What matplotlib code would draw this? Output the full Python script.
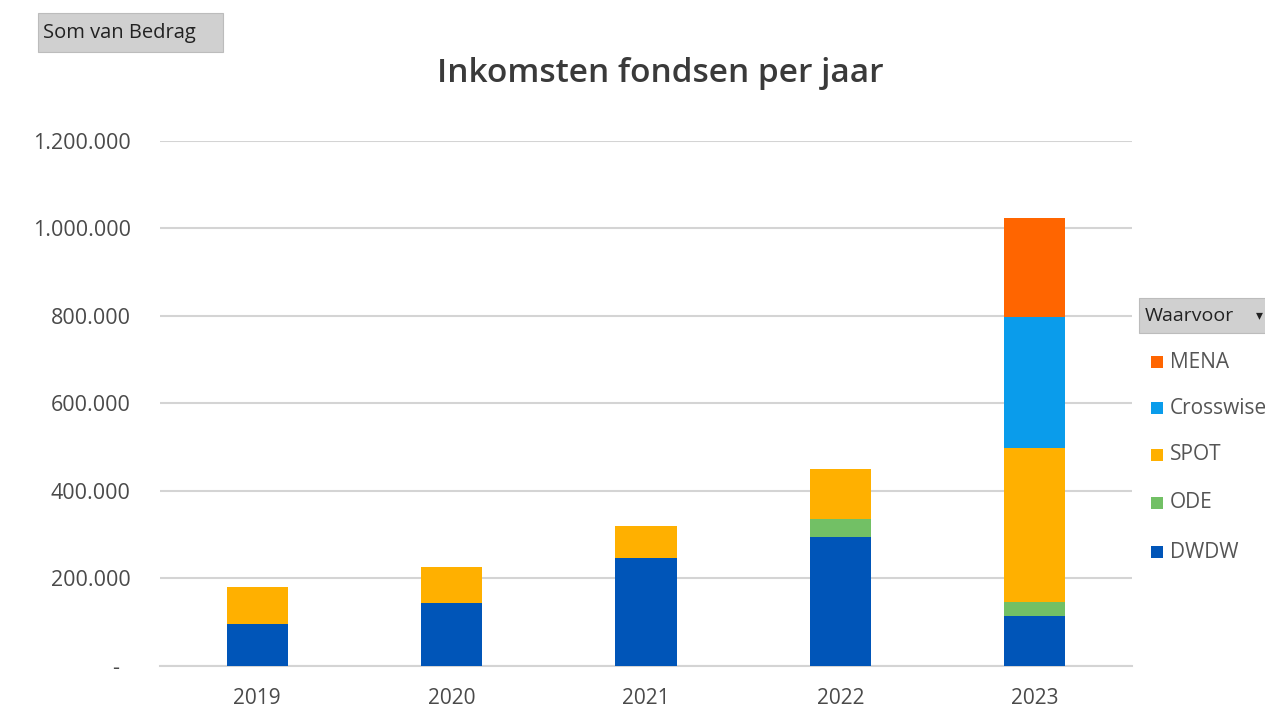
import matplotlib.pyplot as plt
import numpy as np
from matplotlib.patches import Rectangle

years = ["2019", "2020", "2021", "2022", "2023"]
series = ["DWDW", "ODE", "SPOT", "Crosswise", "MENA"]
dwdw = [95000, 143000, 246000, 294000, 114000]
ode = [0, 0, 0, 41000, 32000]
spot = [85000, 83000, 74000, 114000, 351000]
crosswise = [0, 0, 0, 0, 301000]
mena = [0, 0, 0, 0, 226000]
colors = ["#0055B8", "#72C065", "#FFB000", "#0A9CEB", "#FF6500"]
yticks = [0, 200000, 400000, 600000, 800000, 1000000, 1200000]


def fmt(v):
    if v == 0:
        return "-  "
    return f"{v:,}".replace(",", ".")


def button(fig, x, y, w, h):
    fig.patches.append(Rectangle((x, y), w, h, transform=fig.transFigure,
                                 facecolor="#d0d0d0", edgecolor="#bcbcbc", lw=0.8))


def generate_chart():
    plt.rcParams["font.family"] = ["Open Sans", "DejaVu Sans"]
    fig = plt.figure(figsize=(12.65, 7.11), dpi=100)
    ax = fig.add_axes([0.1265, 0.0637, 0.7684, 0.738])

    x = np.arange(len(years))
    bottom = np.zeros(len(years))
    values = [dwdw, ode, spot, crosswise, mena]
    for name, vals, c in zip(series, values, colors):
        ax.bar(x, vals, width=0.315, bottom=bottom, color=c, label=name, zorder=3)
        bottom += np.array(vals)

    ax.set_xlim(-0.5, 4.5)
    ax.set_ylim(0, 1200000)
    ax.set_yticks(yticks)
    ax.set_yticklabels([fmt(v) for v in yticks])
    ax.set_xticks(x)
    ax.set_xticklabels(years)
    ax.grid(axis="y", color="#d4d4d4", lw=1.5, zorder=0)
    ax.set_axisbelow(True)
    for s in ["top", "right", "left"]:
        ax.spines[s].set_visible(False)
    ax.spines["bottom"].set_color("#d4d4d4")
    ax.spines["bottom"].set_linewidth(1.5)
    ax.tick_params(length=0, colors="#4a4a4a")
    ax.tick_params(axis="y", labelsize=15.5, pad=21)
    ax.tick_params(axis="x", labelsize=15, pad=16)

    fig.text(0.522, 0.896, "Inkomsten fondsen per jaar", ha="center", va="center",
             fontsize=24, color="#3a3a3a", fontweight="semibold")

    # field buttons
    button(fig, 0.030, 0.927, 0.146, 0.055)
    fig.text(0.034, 0.953, "Som van Bedrag", va="center", fontsize=14.5, color="#222222")

    button(fig, 0.900, 0.531, 0.11, 0.050)
    fig.text(0.905, 0.556, "Waarvoor", va="center", fontsize=14, color="#222222")
    fig.text(0.993, 0.556, "▾", va="center", fontsize=10, color="#222222")

    # legend
    ys = [362, 408, 455, 503, 552]
    for name, c, yy in zip(series[::-1], colors[::-1], ys):
        yf = 1 - yy / 711
        fig.patches.append(Rectangle((0.9095, yf - 0.0085), 0.0095, 0.017,
                                     transform=fig.transFigure, facecolor=c, edgecolor="none"))
        fig.text(0.925, yf, name, va="center", fontsize=15, color="#555555")

    fig.savefig("out.png", dpi=100)


if __name__ == "__main__":
    generate_chart()
